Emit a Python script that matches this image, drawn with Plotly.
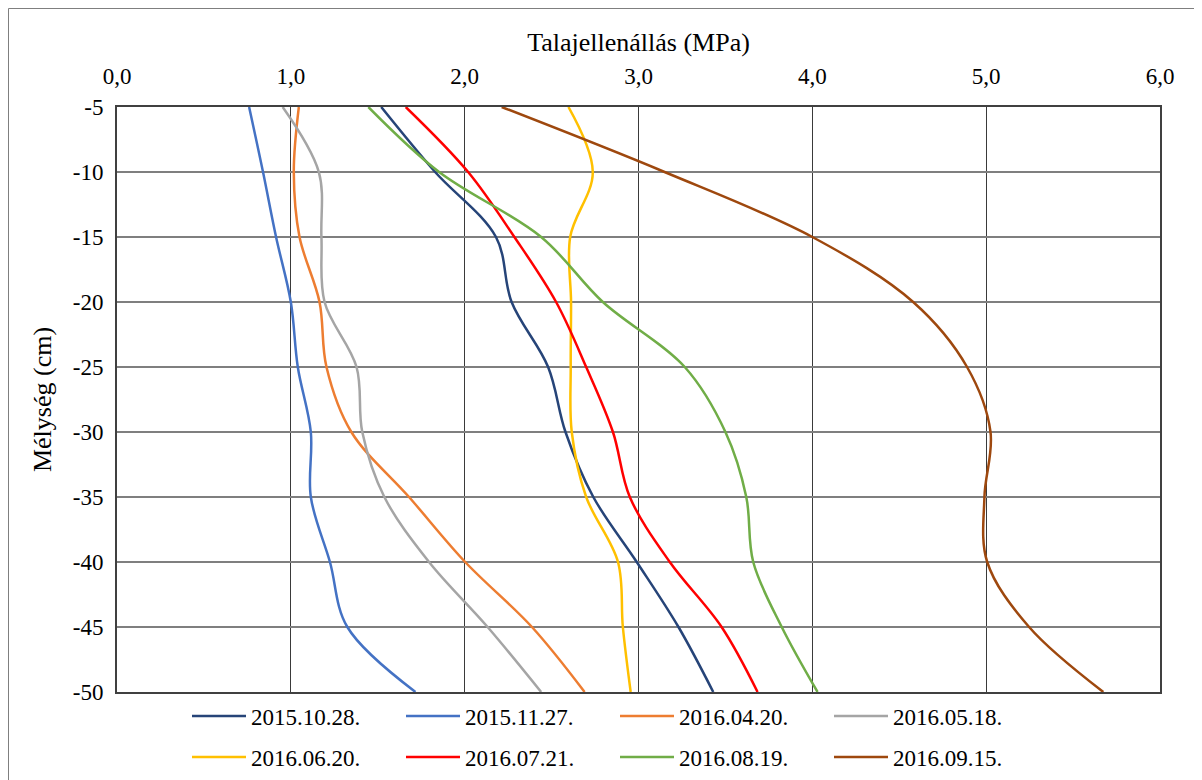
import plotly.graph_objects as go

# ---- data ----
depths = [-5, -10, -15, -20, -25, -30, -35, -40, -45, -50]
series_names = ["2015.10.28.", "2015.11.27.", "2016.04.20.", "2016.05.18.",
                "2016.06.20.", "2016.07.21.", "2016.08.19.", "2016.09.15."]
s_20151028 = [1.52, 1.83, 2.18, 2.27, 2.48, 2.58, 2.74, 2.99, 3.23, 3.43]
s_20151127 = [0.76, 0.84, 0.915, 1.0, 1.04, 1.115, 1.115, 1.225, 1.325, 1.717]
s_20160420 = [1.046, 1.017, 1.05, 1.165, 1.205, 1.348, 1.68, 2.003, 2.387, 2.69]
s_20160518 = [0.953, 1.161, 1.176, 1.194, 1.378, 1.411, 1.538, 1.795, 2.132, 2.44]
s_20160620 = [2.597, 2.737, 2.607, 2.612, 2.61, 2.616, 2.699, 2.882, 2.91, 2.955]
s_20160721 = [1.661, 2.02, 2.286, 2.526, 2.699, 2.853, 2.95, 3.18, 3.478, 3.685]
s_20160819 = [1.446, 1.853, 2.44, 2.795, 3.266, 3.50, 3.62, 3.66, 3.824, 4.03]
s_20160915 = [2.213, 3.15, 4.0, 4.58, 4.89, 5.025, 4.99, 5.006, 5.247, 5.674]

x_tickvals = [0, 1, 2, 3, 4, 5, 6]
x_ticktext = ["0,0", "1,0", "2,0", "3,0", "4,0", "5,0", "6,0"]
y_tickvals = [-5, -10, -15, -20, -25, -30, -35, -40, -45, -50]
y_ticktext = ["-5", "-10", "-15", "-20", "-25", "-30", "-35", "-40", "-45", "-50"]

x_title = "Talajellenállás (MPa)"
y_title = "Mélység (cm)"

all_series = [s_20151028, s_20151127, s_20160420, s_20160518,
              s_20160620, s_20160721, s_20160819, s_20160915]
colors = ["#264478", "#4472C4", "#ED7D31", "#A5A5A5",
          "#FFC000", "#FF0000", "#70AD47", "#9E480E"]

FONT = "Liberation Serif, Times New Roman, serif"
FS = 23
FS_TITLE = 26

fig = go.Figure()
for i, (name, vals, col) in enumerate(zip(series_names, all_series, colors)):
    fig.add_trace(go.Scatter(
        x=vals, y=depths, name=name, mode="lines",
        line=dict(color=col, width=2.5, shape="spline", smoothing=1.0),
        legend="legend" if i < 4 else "legend2",
    ))

# the page adds an 8px body margin, so the figure is sized to fit the window
W, H = 1194, 772
ml, mr, mt, mb = 109, 42, 99, 88
pw, ph = W - ml - mr, H - mt - mb

def px_x(p):
    return (p - ml) / pw

def px_y(p):
    return (H - mb - p) / ph

legend_common = dict(
    orientation="h", xanchor="left", yanchor="middle",
    xref="container", yref="container",
    font=dict(family=FONT, size=FS, color="black"),
    entrywidth=145, entrywidthmode="pixels", itemwidth=54,
    bgcolor="rgba(0,0,0,0)", borderwidth=0, traceorder="normal",
)

fig.update_layout(
    width=W, height=H,
    margin=dict(l=ml, r=mr, t=mt, b=mb, autoexpand=False),
    paper_bgcolor="white", plot_bgcolor="white",
    font=dict(family=FONT, size=FS, color="black"),
    showlegend=True,
    legend=dict(x=179 / W, y=(H - 708) / H, **legend_common),
    legend2=dict(x=179 / W, y=(H - 749) / H, **legend_common),
    xaxis=dict(
        side="top", range=[0, 6], tickvals=x_tickvals, ticktext=x_ticktext,
        showgrid=True, gridcolor="#3a3a3a", gridwidth=1,
        showline=True, linecolor="#404040", linewidth=2, mirror=True,
        ticks="", zeroline=False, automargin=False, ticklabelstandoff=12,
        title=dict(text=x_title, font=dict(family=FONT, size=FS_TITLE), standoff=5),
        tickfont=dict(family=FONT, size=FS, color="black"),
    ),
    yaxis=dict(
        range=[-50, -5], tickvals=y_tickvals, ticktext=y_ticktext,
        showgrid=True, gridcolor="#7f7f7f", gridwidth=1.5,
        showline=True, linecolor="#404040", linewidth=2, mirror=True,
        ticks="", zeroline=False, automargin=False, ticklabelstandoff=7,
        title=dict(text=y_title, font=dict(family=FONT, size=FS_TITLE), standoff=14),
        tickfont=dict(family=FONT, size=FS, color="black"),
    ),
    shapes=[dict(
        type="rect", xref="paper", yref="paper",
        x0=px_x(0.5), x1=px_x(1230), y0=px_y(820), y1=px_y(0.5),
        line=dict(color="#7f7f7f", width=1), fillcolor="rgba(0,0,0,0)", layer="below",
    )],
)

fig.write_html("out.html")
